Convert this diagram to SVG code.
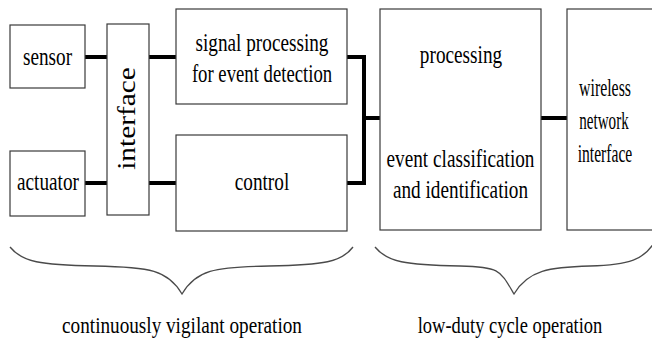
<svg xmlns="http://www.w3.org/2000/svg" width="652" height="340" viewBox="0 0 652 340">
  <style>
    .box { fill: #ffffff; stroke: #3a3a3a; stroke-width: 1.2; }
    .wire { fill: none; stroke: #000000; stroke-width: 4; stroke-linejoin: miter; }
    .brace { fill: none; stroke: #4a4a4a; stroke-width: 1.3; }
    .lbl { font-family: "Liberation Serif", "Times New Roman", serif; font-size: 26px; fill: #000000; text-anchor: middle; }
    .cap { font-family: "Liberation Serif", "Times New Roman", serif; font-size: 24px; fill: #000000; text-anchor: middle; }
  </style>
  <rect width="652" height="340" fill="#ffffff"/>

  <!-- connectors -->
  <g id="connectors">
    <line class="wire" x1="85" y1="57" x2="107" y2="57"/>
    <line class="wire" x1="149" y1="57" x2="176" y2="57"/>
    <line class="wire" x1="85" y1="183" x2="107" y2="183"/>
    <line class="wire" x1="149" y1="183" x2="176" y2="183"/>
    <polyline class="wire" points="347,57 364,57 364,183 347,183"/>
    <line class="wire" x1="364" y1="118" x2="380" y2="118"/>
    <line class="wire" x1="541" y1="118" x2="567" y2="118"/>
  </g>

  <g id="sensor">
    <rect class="box" x="10" y="25" width="75" height="63"/>
    <text class="lbl" transform="translate(47.5,65) scale(0.74,1)">sensor</text>
  </g>

  <g id="actuator">
    <rect class="box" x="10" y="151" width="75" height="65"/>
    <text class="lbl" transform="translate(48,190) scale(0.74,1)">actuator</text>
  </g>

  <g id="interface">
    <rect class="box" x="107" y="24" width="42" height="191"/>
    <text class="lbl" transform="translate(135,118.5) rotate(-90) scale(1.13,1)">interface</text>
  </g>

  <g id="signal-processing">
    <rect class="box" x="176" y="9" width="171" height="95"/>
    <text class="lbl" transform="translate(262,51) scale(0.74,1)">signal processing</text>
    <text class="lbl" transform="translate(262,82) scale(0.72,1)">for event detection</text>
  </g>

  <g id="control">
    <rect class="box" x="176" y="135" width="171" height="96"/>
    <text class="lbl" transform="translate(262,190) scale(0.74,1)">control</text>
  </g>

  <g id="processing">
    <rect class="box" x="380" y="9" width="161" height="221"/>
    <text class="lbl" transform="translate(461,63) scale(0.74,1)">processing</text>
    <text class="lbl" transform="translate(460.5,167) scale(0.74,1)">event classification</text>
    <text class="lbl" transform="translate(460.5,198) scale(0.74,1)">and identification</text>
  </g>

  <g id="wireless-network-interface">
    <rect class="box" x="567" y="9" width="100" height="221"/>
    <text class="lbl" transform="translate(605,96) scale(0.61,1)">wireless</text>
    <text class="lbl" transform="translate(604,129) scale(0.58,1)">network</text>
    <text class="lbl" transform="translate(605,162) scale(0.60,1)">interface</text>
  </g>

  <!-- curly braces grouping the two operating modes -->
  <g id="continuous-mode">
    <path class="brace" d="M10,247 C22,262 40,265 95,266 C150,267 168,270 182,294 C196,270 214,267 269,266 C324,265 342,262 353,247"/>
    <text class="cap" transform="translate(182,333) scale(0.80,1)">continuously vigilant operation</text>
  </g>

  <g id="low-duty-mode">
    <path class="brace" d="M375,247 C387,262 405,265 460,266 C500,267 500,270 514,294 C528,270 550,267 590,266 C630,265 644,259 654,243"/>
    <text class="cap" transform="translate(510,333) scale(0.77,1)">low-duty cycle operation</text>
  </g>
</svg>
